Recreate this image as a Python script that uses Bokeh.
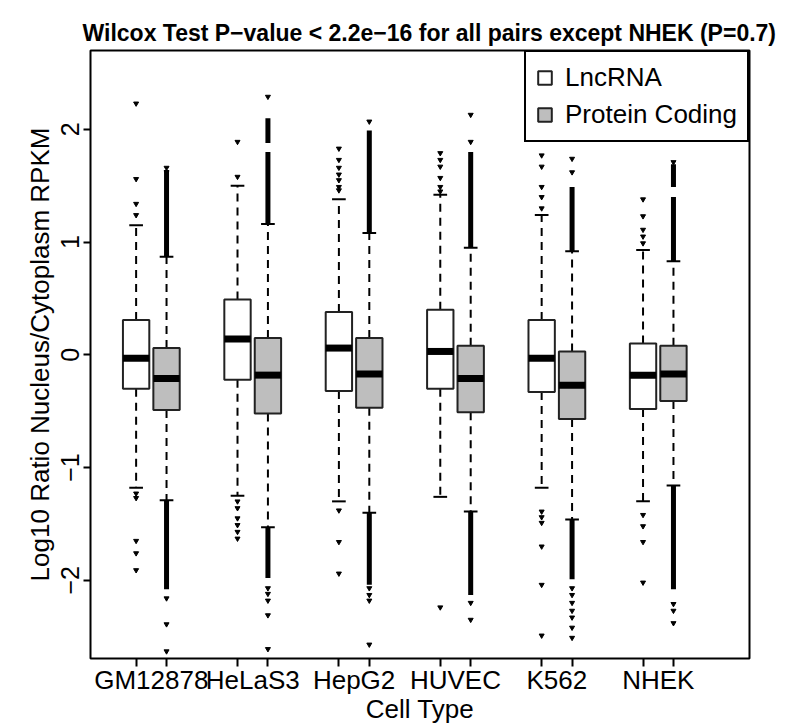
from bokeh.plotting import figure
from bokeh.models import FixedTicker, LinearAxis, Legend, LegendItem, CustomLabelingPolicy
from bokeh.embed import file_html
from bokeh.resources import INLINE

# ---------------- data ----------------
cell_types = ["GM12878", "HeLaS3", "HepG2", "HUVEC", "K562", "NHEK"]

lnc_lower = [-1.18, -1.25, -1.30, -1.26, -1.18, -1.30]
lnc_q1 = [-0.30, -0.22, -0.32, -0.30, -0.33, -0.48]
lnc_median = [-0.03, 0.14, 0.06, 0.03, -0.03, -0.18]
lnc_q3 = [0.31, 0.49, 0.38, 0.40, 0.31, 0.10]
lnc_upper = [1.15, 1.50, 1.38, 1.42, 1.24, 0.93]

pc_lower = [-1.29, -1.53, -1.40, -1.39, -1.46, -1.16]
pc_q1 = [-0.49, -0.52, -0.47, -0.51, -0.57, -0.41]
pc_median = [-0.21, -0.18, -0.17, -0.21, -0.27, -0.17]
pc_q3 = [0.06, 0.15, 0.15, 0.08, 0.03, 0.08]
pc_upper = [0.87, 1.16, 1.08, 0.95, 0.92, 0.83]

lnc_outliers = [
    [2.23, 1.56, 1.34, 1.24, -1.23, -1.27, -1.65, -1.76, -1.91],
    [1.89, 1.58, -1.30, -1.36, -1.45, -1.51, -1.57, -1.63],
    [1.83, 1.73, 1.66, 1.60, 1.55, 1.49, 1.46, -1.38, -1.66, -1.94],
    [1.79, 1.73, 1.67, 1.57, 1.49, 1.45, -2.24],
    [1.77, 1.67, 1.49, 1.40, 1.30, -1.39, -1.44, -1.49, -1.70, -2.04, -2.49],
    [1.38, 1.23, 1.11, 1.05, 0.99, -1.42, -1.52, -1.66, -2.02],
]
pc_outliers = [
    [1.66, 1.62, -2.16, -2.39, -2.63],
    [2.29, -2.07, -2.12, -2.18, -2.31, -2.61],
    [2.07, -2.07, -2.13, -2.18, -2.57],
    [2.13, 1.89, -2.20, -2.35],
    [1.74, 1.62, -2.07, -2.13, -2.20, -2.27, -2.33, -2.42, -2.51],
    [1.71, -2.21, -2.27, -2.38],
]
# runs of outliers so dense that they merge into a solid line: (from, to)
pc_dense_runs = [
    [(0.87, 1.64), (-2.08, -1.29)],
    [(1.88, 2.10), (1.16, 1.80), (-1.98, -1.53)],
    [(1.08, 1.99), (-2.04, -1.40)],
    [(0.95, 1.80), (-2.13, -1.39)],
    [(0.92, 1.49), (-1.99, -1.46)],
    [(1.49, 1.69), (0.83, 1.40), (-2.08, -1.16)],
]

yticks = [-2, -1, 0, 1, 2]

# ---------------- layout ----------------
FONT = "Liberation Sans"
OFF = 0.15
BOXW = 0.26
STAPLE = 0.135

p = figure(width=789, height=726, x_range=(0.40, 6.90), y_range=(-2.694, 2.70),
           output_backend="svg", toolbar_location=None,
           min_border_left=90, min_border_right=40, min_border_top=50, min_border_bottom=65,
           background_fill_color="white", border_fill_color="white")
p.xgrid.visible = False
p.ygrid.visible = False
p.outline_line_color = "black"
p.outline_line_width = 2
p.outline_line_alpha = 1

p.title.text = "Wilcox Test P\u2212value < 2.2e\u221216 for all pairs except NHEK (P=0.7)"
p.title.text_font = FONT
p.title.text_font_style = "bold"
p.title.text_font_size = "23px"
p.title.align = "left"
p.title.offset = -8
p.title.text_color = "black"

def build(lower, q1, med, q3, upper, outl, offset, fill):
    xs = [i + 1 + offset for i in range(len(cell_types))]
    # whiskers
    p.segment(x0=xs, y0=q3, x1=xs, y1=upper, line_color="black", line_width=2, line_dash="8 6")
    p.segment(x0=xs, y0=q1, x1=xs, y1=lower, line_color="black", line_width=2, line_dash="8 6")
    # staples
    p.segment(x0=[x - STAPLE / 2 for x in xs], y0=upper, x1=[x + STAPLE / 2 for x in xs], y1=upper,
              line_color="black", line_width=2)
    p.segment(x0=[x - STAPLE / 2 for x in xs], y0=lower, x1=[x + STAPLE / 2 for x in xs], y1=lower,
              line_color="black", line_width=2)
    # boxes
    r = p.vbar(x=xs, bottom=q1, top=q3, width=BOXW, fill_color=fill, line_color="#222222", line_width=2)
    # medians
    p.segment(x0=[x - BOXW / 2 for x in xs], y0=med, x1=[x + BOXW / 2 for x in xs], y1=med,
              line_color="black", line_width=7, line_cap="butt")
    # outliers
    ox, oy = [], []
    for x, vals in zip(xs, outl):
        ox += [x] * len(vals)
        oy += vals
    p.scatter(x=ox, y=oy, marker="inverted_triangle", size=5, fill_color="black", line_color="black")
    return r, xs

r_lnc, x_lnc = build(lnc_lower, lnc_q1, lnc_median, lnc_q3, lnc_upper, lnc_outliers, -OFF, "white")
r_pc, x_pc = build(pc_lower, pc_q1, pc_median, pc_q3, pc_upper, pc_outliers, OFF, "#bebebe")

dx0, dy0, dy1 = [], [], []
for x, runs in zip(x_pc, pc_dense_runs):
    for a, b in runs:
        dx0.append(x)
        dy0.append(a)
        dy1.append(b)
p.segment(x0=dx0, y0=dy0, x1=dx0, y1=dy1, line_color="black", line_width=5)

# ---------------- axes ----------------
yax = p.yaxis[0]
yax.ticker = FixedTicker(ticks=yticks)
yax.major_label_overrides = {-2: "\u22122", -1: "\u22121", 0: "0", 1: "1", 2: "2"}
yax.major_label_orientation = "vertical"
yax.axis_line_color = None
yax.minor_tick_line_color = None
yax.major_tick_out = 7
yax.major_tick_in = 0
yax.major_tick_line_width = 2
yax.major_tick_line_color = "black"
yax.major_label_text_font = FONT
yax.major_label_text_font_size = "25px"
yax.major_label_text_color = "black"
yax.major_label_standoff = 4
yax.axis_label = "Log10 Ratio Nucleus/Cytoplasm RPKM"
yax.axis_label_text_font = FONT
yax.axis_label_text_font_size = "26px"
yax.axis_label_text_font_style = "normal"
yax.axis_label_text_color = "black"
yax.axis_label_standoff = 4

# tick marks at every box, no labels
xax = p.xaxis[0]
xax.ticker = FixedTicker(ticks=sorted(x_lnc + x_pc))
xax.major_label_policy = CustomLabelingPolicy(code="return new Set()")
xax.major_label_text_font_size = "0px"
xax.major_label_standoff = 0
xax.axis_line_color = None
xax.minor_tick_line_color = None
xax.major_tick_out = 8
xax.major_tick_in = 0
xax.major_tick_line_width = 2
xax.major_tick_line_color = "black"

# cell type names centred under each pair
centers = [i + 1 for i in range(len(cell_types))]
xlab = LinearAxis(ticker=FixedTicker(ticks=centers),
                  major_label_overrides={c: n for c, n in zip(centers, cell_types)})
xlab.axis_line_color = None
xlab.major_tick_line_color = None
xlab.minor_tick_line_color = None
xlab.major_tick_out = 0
xlab.major_tick_in = 0
xlab.major_label_standoff = -2
xlab.major_label_text_font = FONT
xlab.major_label_text_font_size = "26px"
xlab.major_label_text_color = "black"
xlab.axis_label = "Cell Type"
xlab.axis_label_text_font = FONT
xlab.axis_label_text_font_size = "26px"
xlab.axis_label_text_font_style = "normal"
xlab.axis_label_text_color = "black"
xlab.axis_label_standoff = -4
p.add_layout(xlab, "below")

# ---------------- legend ----------------
legend = Legend(items=[LegendItem(label="LncRNA", renderers=[r_lnc]),
                       LegendItem(label="Protein Coding", renderers=[r_pc])],
                location="top_right")
legend.margin = 0
legend.padding = 10
legend.spacing = 6
legend.glyph_width = 17
legend.glyph_height = 17
legend.label_standoff = 12
legend.label_text_font = FONT
legend.label_text_font_size = "26px"
legend.label_text_color = "black"
legend.border_line_color = "black"
legend.border_line_alpha = 1
legend.border_line_width = 2
legend.background_fill_color = "white"
legend.background_fill_alpha = 1
p.add_layout(legend, "center")

open("out.html", "w").write(file_html(p, INLINE))
